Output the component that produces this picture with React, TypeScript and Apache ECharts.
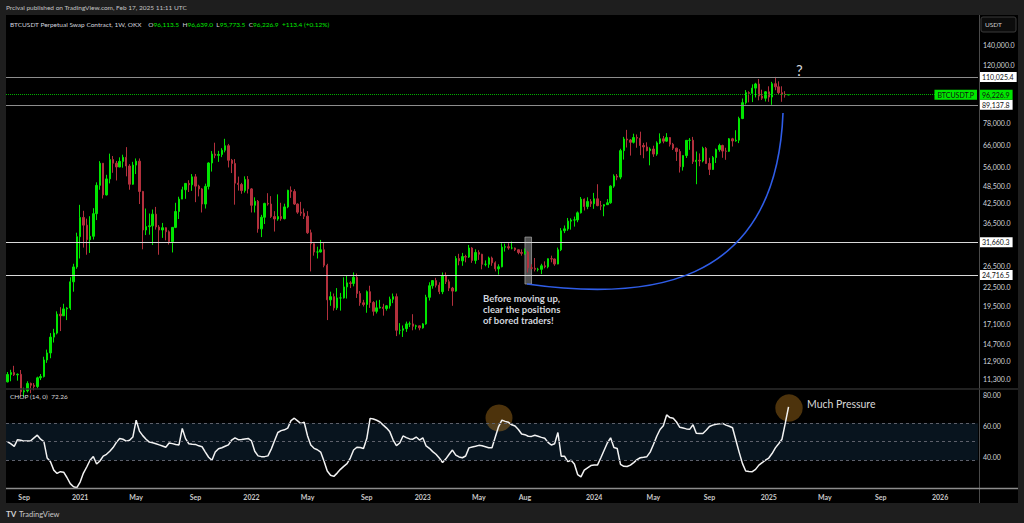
import React, { useEffect, useRef } from "react";
import * as echarts from "echarts";

const FONT = "Lato, 'Open Sans', 'DejaVu Sans', sans-serif";
const NOTE_FONT = "Lato, 'Open Sans', sans-serif";
const GREEN = "#00e600";
const RED = "#b3303d";

// ---- data (prices in thousands of USDT, weekly candles from 2020-08-03) ----
const firstWeekUTC = Date.UTC(2020, 7, 3);
const totalWeeks = 295;
const firstOpen = 11.05;

const closes = [
  11.68, 11.85, 11.65, 11.7, 10.25, 10.33, 10.92, 10.77, 10.67, 11.39,
  11.5, 13.03, 13.74, 15.48, 15.96, 18.4, 18.18, 19.15, 19.27, 23.48,
  26.27, 33.0, 38.15, 36.0, 32.26, 33.1, 39.25, 48.58, 57.4, 45.2,
  51.0, 59.0, 57.4, 55.8, 58.2, 60.0, 56.2, 49.0, 56.6, 58.3,
  46.4, 34.7, 35.6, 35.8, 39.1, 35.5, 34.7, 35.3, 34.25, 31.8,
  35.4, 39.9, 43.8, 47.0, 49.3, 48.8, 51.8, 48.3, 47.3, 42.2,
  48.2, 57.5, 61.5, 60.9, 61.3, 63.3, 65.5, 58.7, 57.3, 49.4,
  48.9, 46.7, 50.8, 47.3, 41.8, 43.1, 35.0, 38.2, 42.4, 42.2,
  38.4, 37.7, 38.4, 37.8, 41.3, 46.8, 46.4, 42.2, 39.7, 39.4,
  38.5, 34.0, 31.3, 29.4, 29.4, 29.9, 26.6, 20.5, 21.0, 19.3,
  20.8, 20.8, 22.6, 23.3, 23.2, 24.3, 21.5, 20.05, 19.8, 21.8,
  20.1, 18.8, 19.3, 19.4, 19.2, 19.6, 20.6, 21.0, 16.3, 16.3,
  16.5, 17.1, 17.1, 16.8, 16.85, 16.6, 17.1, 20.9, 22.8, 23.7,
  22.9, 21.8, 24.6, 23.5, 22.4, 21.9, 28.0, 27.5, 28.4, 28.3,
  30.3, 27.6, 29.3, 28.9, 26.8, 26.8, 28.1, 27.1, 25.9, 26.3,
  30.5, 30.6, 30.3, 30.3, 29.9, 29.3, 29.1, 29.4, 26.1, 26.0,
  25.8, 25.8, 26.5, 26.3, 27.95, 27.9, 26.85, 29.9, 34.5, 35.0,
  37.1, 37.4, 37.45, 39.5, 43.8, 41.4, 43.0, 42.3, 43.9, 41.7,
  41.55, 42.0, 42.6, 48.3, 52.1, 51.7, 63.1, 68.9, 68.4, 67.2,
  69.65, 69.35, 65.6, 64.9, 63.1, 63.9, 61.5, 66.9, 69.0, 67.8,
  69.65, 66.2, 64.3, 62.7, 55.9, 60.8, 68.2, 68.25, 58.1, 58.7,
  58.4, 64.2, 57.3, 54.8, 59.9, 63.6, 65.6, 62.9, 62.8, 69.0,
  67.9, 68.3, 80.4, 90.6, 97.7, 97.2, 101.1, 104.3, 95.2, 93.7,
  98.3, 94.5, 104.5, 102.1, 97.7, 96.5, 96.1135, 96.2269,
];

const highs = [
  11.9, 12.1, 12.47, 11.78, 12.08, 10.58, 11.1, 10.99, 10.95, 11.49,
  11.72, 13.35, 14.09, 15.96, 16.48, 18.8, 19.4, 19.9, 19.4, 24.3,
  26.9, 34.0, 41.95, 40.1, 37.8, 38.5, 40.9, 49.7, 58.3, 57.5,
  52.6, 61.7, 60.6, 58.4, 60.0, 61.2, 64.8, 57.0, 58.0, 59.5,
  59.5, 46.6, 40.8, 39.3, 40.5, 41.3, 36.0, 36.6, 35.4, 34.6,
  35.5, 42.6, 44.6, 48.1, 49.4, 50.5, 52.9, 52.9, 48.8, 47.6,
  49.2, 57.8, 62.9, 67.0, 63.0, 64.3, 69.0, 66.4, 59.3, 59.2,
  51.9, 49.5, 52.0, 52.1, 47.6, 44.4, 43.5, 38.9, 42.6, 45.8,
  44.8, 40.0, 45.4, 42.6, 42.3, 47.0, 48.2, 47.2, 42.4, 42.9,
  40.8, 40.0, 34.8, 31.4, 30.6, 32.2, 31.6, 26.9, 21.8, 21.5,
  22.4, 21.6, 24.3, 24.7, 23.6, 25.2, 25.0, 21.9, 20.5, 22.0,
  22.8, 20.3, 20.4, 20.5, 19.9, 19.7, 21.0, 21.5, 21.5, 17.2,
  16.9, 17.4, 17.4, 18.4, 17.0, 16.9, 17.2, 21.3, 23.4, 23.8,
  24.2, 23.4, 25.2, 25.2, 23.9, 22.6, 28.5, 29.0, 29.2, 28.8,
  31.0, 30.5, 30.0, 29.8, 29.0, 27.6, 28.4, 28.4, 27.4, 26.8,
  31.4, 31.3, 31.4, 31.8, 30.4, 30.0, 30.0, 30.2, 29.7, 26.8,
  28.1, 26.1, 26.9, 27.4, 28.0, 28.6, 28.0, 30.4, 35.2, 35.9,
  38.0, 37.9, 38.4, 39.9, 44.5, 44.0, 44.4, 43.8, 45.9, 49.0,
  43.2, 42.2, 43.8, 48.6, 52.8, 52.9, 64.0, 70.0, 73.8, 68.9,
  71.7, 71.3, 72.8, 66.9, 67.2, 64.7, 65.5, 67.7, 71.9, 70.5,
  72.0, 69.9, 66.9, 64.5, 63.8, 60.9, 68.4, 69.4, 70.0, 62.7,
  61.8, 65.0, 64.9, 59.8, 60.6, 64.1, 66.5, 66.0, 64.5, 69.4,
  69.5, 73.6, 81.5, 93.5, 99.6, 98.7, 104.0, 105.2, 108.3, 99.9,
  98.9, 102.5, 106.0, 110.03, 106.4, 102.5, 98.8, 96.639,
];

const lows = [
  11.0, 11.1, 11.55, 11.15, 9.87, 9.85, 10.2, 10.14, 10.37, 10.53,
  11.2, 11.42, 12.75, 13.2, 14.86, 15.8, 16.2, 18.2, 17.6, 19.0,
  21.8, 25.9, 28.0, 30.4, 28.8, 29.2, 32.3, 37.4, 47.0, 44.0,
  45.0, 49.3, 53.4, 50.4, 55.7, 55.5, 52.0, 47.0, 48.8, 52.9,
  42.2, 30.0, 33.4, 33.5, 31.0, 34.8, 28.8, 32.7, 32.1, 31.1,
  29.3, 35.2, 37.7, 43.8, 43.9, 46.2, 46.6, 42.8, 44.7, 39.6,
  40.8, 47.1, 53.9, 59.6, 58.0, 60.1, 62.3, 55.6, 53.3, 42.0,
  46.7, 45.6, 46.0, 45.7, 39.6, 39.6, 34.0, 32.9, 36.3, 41.7,
  38.0, 34.3, 37.2, 37.2, 37.6, 40.9, 44.2, 41.9, 39.2, 38.6,
  37.7, 33.7, 25.4, 28.6, 28.0, 29.3, 26.2, 17.6, 19.6, 18.9,
  19.0, 18.9, 20.7, 20.7, 22.4, 22.7, 20.8, 19.6, 19.5, 18.6,
  19.3, 18.2, 18.5, 19.2, 18.2, 18.9, 19.2, 20.0, 15.6, 15.8,
  15.5, 16.1, 16.7, 16.3, 16.4, 16.3, 16.5, 17.0, 20.4, 22.3,
  22.5, 21.4, 21.4, 23.1, 21.9, 19.6, 21.8, 26.6, 26.5, 27.2,
  28.1, 27.1, 26.9, 27.7, 25.8, 26.4, 26.1, 26.5, 25.4, 24.8,
  26.2, 29.5, 29.9, 30.0, 29.6, 28.9, 28.6, 28.8, 25.2, 25.8,
  25.4, 25.4, 24.9, 26.0, 26.0, 27.2, 26.5, 26.8, 29.6, 33.9,
  34.5, 34.8, 35.6, 36.8, 39.3, 40.2, 40.6, 41.3, 40.7, 41.5,
  40.3, 38.5, 41.9, 42.3, 47.7, 50.5, 50.9, 59.0, 64.6, 60.8,
  66.6, 64.5, 61.0, 59.6, 62.8, 56.5, 60.2, 60.7, 66.3, 66.7,
  67.5, 65.1, 63.4, 58.4, 53.5, 54.3, 59.7, 63.5, 57.1, 49.0,
  56.1, 57.8, 57.2, 52.5, 54.6, 57.5, 62.6, 59.8, 58.9, 62.5,
  65.1, 67.5, 66.8, 80.0, 89.4, 90.8, 91.0, 94.2, 92.2, 92.5,
  91.4, 91.2, 89.14, 99.5, 96.2, 91.2, 94.1, 95.7735,
];

const chop = [
  50.0, 48.7, 47.1, 51.3, 50.9, 50.4, 50.5, 50.6, 52.5, 54.2,
  51.6, 50.1, 39.6, 37.2, 31.9, 29.8, 30.9, 30.6, 27.2, 23.3,
  21.3, 20.7, 24.3, 30.0, 33.9, 38.2, 40.6, 35.8, 37.7, 40.8,
  42.0, 43.9, 46.3, 49.6, 52.0, 51.6, 50.4, 50.9, 53.0, 63.8,
  56.8, 53.9, 51.6, 49.8, 49.4, 48.7, 48.0, 47.3, 46.5, 49.2,
  48.8, 48.2, 48.0, 58.5, 52.0, 48.7, 48.4, 48.3, 47.4, 46.8,
  43.4, 40.1, 38.2, 43.4, 45.5, 46.2, 47.1, 48.0, 51.1, 52.5,
  51.3, 51.4, 51.8, 52.1, 50.6, 43.9, 41.0, 40.5, 40.5, 41.0,
  45.3, 50.6, 55.9, 57.1, 57.6, 58.7, 63.5, 65.0, 63.3, 61.6,
  62.4, 53.9, 47.9, 45.8, 44.9, 43.4, 37.7, 31.3, 28.6, 27.9,
  30.0, 32.4, 34.3, 36.0, 39.6, 44.7, 46.5, 46.3, 45.7, 52.0,
  64.9, 64.5, 63.7, 62.6, 60.6, 58.7, 56.3, 51.1, 47.5, 49.2,
  53.7, 52.6, 51.8, 51.6, 53.0, 51.1, 52.5, 47.3, 45.8, 43.7,
  42.0, 39.6, 36.8, 39.1, 42.0, 44.7, 41.5, 40.3, 39.8, 40.9,
  46.1, 46.6, 47.1, 47.7, 47.4, 46.8, 46.2, 46.2, 53.0, 59.7,
  63.8, 63.0, 62.4, 60.8, 60.0, 57.8, 54.9, 54.5, 53.5, 53.4,
  54.1, 53.5, 52.8, 52.2, 49.6, 47.9, 48.7, 55.9, 40.8, 40.8,
  37.3, 38.2, 35.8, 29.1, 27.6, 31.9, 33.4, 34.8, 35.1, 35.1,
  39.6, 44.4, 49.2, 52.5, 46.3, 45.7, 35.6, 34.3, 34.2, 35.1,
  36.7, 38.6, 39.8, 40.1, 40.5, 43.4, 48.2, 53.5, 57.8, 60.2,
  67.1, 65.4, 65.0, 62.6, 59.2, 58.7, 58.2, 57.9, 60.8, 55.4,
  55.3, 55.3, 57.3, 59.7, 60.6, 61.1, 61.4, 61.7, 60.6, 59.9,
  58.9, 51.1, 43.4, 36.2, 31.3, 31.0, 30.9, 32.4, 35.1, 36.7,
  38.2, 39.6, 42.5, 46.1, 48.7, 51.6, 61.7, 72.26,
];

const priceTicks = [
  140000, 120000, 78000, 66000, 56000, 48500, 42500, 36500,
  26500, 22500, 19500, 17100, 14700, 12900, 11300,
];
const chopTicks = [80, 60, 40];
const chopLevels = [61.8, 50, 38.2];
const resistanceLevels = [110025.4, 89137.8];
const supportLevels = [31660.3, 24716.5];

const timeLabels: [string, string][] = [
  ["2020-09-07", "Sep"], ["2021-01-04", "2021"], ["2021-05-03", "May"],
  ["2021-09-06", "Sep"], ["2022-01-03", "2022"], ["2022-05-02", "May"],
  ["2022-09-05", "Sep"], ["2023-01-02", "2023"], ["2023-05-01", "May"],
  ["2023-08-07", "Aug"], ["2024-01-01", "2024"], ["2024-05-06", "May"],
  ["2024-09-02", "Sep"], ["2025-01-06", "2025"], ["2025-05-05", "May"],
  ["2025-09-01", "Sep"], ["2026-01-05", "2026"],
];

const noteLines = ["Before moving up,", "clear the positions", "of bored traders!"];

const highlightBox = { from: "2023-08-07", to: "2023-08-21", low: 23100, high: 32900 };

// ---- derived structures ----
const weekDates: string[] = [];
for (let i = 0; i < totalWeeks; i++) {
  weekDates.push(new Date(firstWeekUTC + i * 7 * 86400000).toISOString().slice(0, 10));
}
const labelMap = new Map(timeLabels);

const candles = closes.map((c, i) => {
  const o = i === 0 ? firstOpen : closes[i - 1];
  return [o * 1000, c * 1000, lows[i] * 1000, highs[i] * 1000];
});
const last = candles[candles.length - 1];
const lastPrice = last[1];

const fmt1 = (v: number) =>
  v.toLocaleString("en-US", { minimumFractionDigits: 1, maximumFractionDigits: 1 });

const change = last[1] - last[0];
const changePct = (change / last[0]) * 100;

const HIDDEN_LINE = { color: "rgba(0,0,0,0)", width: 0, type: "solid" };

const tickLabel = (v: number, text: string) => ({
  yAxis: v,
  lineStyle: HIDDEN_LINE,
  label: {
    show: true, position: "end", distance: 5, formatter: text,
    color: "#d1d4dc", fontSize: 7, fontFamily: FONT,
  },
});

const boxLabel = (v: number, lineColor: string) => ({
  yAxis: v,
  lineStyle: { color: lineColor, width: 1, type: "solid" },
  label: {
    show: true, position: "end", distance: 1, formatter: fmt1(v),
    color: "#111", backgroundColor: "#ffffff", padding: [2, 3, 1, 3],
    fontSize: 7, fontFamily: FONT,
  },
});

function buildOption() {
  return {
    animation: false,
    backgroundColor: "#000000",
    grid: [
      { left: 6, right: 46, top: 15, height: 373, outerBoundsMode: "none" },
      { left: 6, right: 46, top: 390, height: 98, outerBoundsMode: "none" },
    ],
    xAxis: [
      {
        type: "category", gridIndex: 0, data: weekDates,
        axisLine: { show: false }, axisTick: { show: false },
        axisLabel: { show: false }, splitLine: { show: false },
      },
      {
        type: "category", gridIndex: 1, data: weekDates,
        axisLine: { show: false }, axisTick: { show: false }, splitLine: { show: false },
        axisLabel: {
          interval: (_i: number, v: string) => labelMap.has(v),
          formatter: (v: string) => labelMap.get(v) ?? "",
          color: "#c8c8c8", fontSize: 7, fontWeight: "bold", fontFamily: FONT, margin: 5,
        },
      },
    ],
    yAxis: [
      {
        type: "log", gridIndex: 0, min: 10550, max: 175400, position: "right",
        axisLine: { show: false }, axisTick: { show: false },
        axisLabel: { show: false }, splitLine: { show: false },
      },
      {
        type: "value", gridIndex: 1, min: 20.5, max: 83, position: "right",
        axisLine: { show: false }, axisTick: { show: false },
        axisLabel: { show: false }, splitLine: { show: false },
      },
    ],
    series: [
      {
        type: "candlestick", xAxisIndex: 0, yAxisIndex: 0, data: candles,
        barWidth: 1.9,
        itemStyle: { color: GREEN, color0: RED, borderColor: GREEN, borderColor0: RED, borderWidth: 1 },
        markArea: {
          silent: true,
          itemStyle: { color: "rgba(135,135,135,0.6)", borderColor: "rgba(170,170,170,0.7)", borderWidth: 1 },
          data: [[
            { xAxis: highlightBox.from, yAxis: highlightBox.low },
            { xAxis: highlightBox.to, yAxis: highlightBox.high },
          ]],
        },
        markLine: {
          silent: true, symbol: ["none", "none"],
          data: [
            ...priceTicks.map((v) => tickLabel(v, fmt1(v))),
            ...resistanceLevels.map((v) => boxLabel(v, "#8d8d8d")),
            ...supportLevels.map((v) => boxLabel(v, "#d9d9d9")),
            {
              yAxis: lastPrice,
              lineStyle: { color: "#00b000", width: 1, type: "dotted" },
              label: {
                show: true, position: "end", distance: 1, formatter: fmt1(lastPrice),
                color: "#111", backgroundColor: GREEN, padding: [2, 3, 1, 3],
                fontSize: 7, fontFamily: FONT,
              },
            },
            {
              yAxis: lastPrice,
              lineStyle: HIDDEN_LINE,
              label: {
                show: true, position: "insideEnd", distance: [1, 0], formatter: "BTCUSDT.P",
                color: "#111", backgroundColor: GREEN, padding: [2, 3, 1, 3],
                fontSize: 7, fontFamily: FONT,
              },
            },
          ],
        },
      },
      {
        type: "line", xAxisIndex: 1, yAxisIndex: 1, data: chop,
        symbol: "none", showSymbol: false, z: 3,
        lineStyle: { color: "#f2f2f2", width: 1.5 },
        markArea: {
          silent: true,
          itemStyle: { color: "#08141e" },
          data: [[{ yAxis: chopLevels[2] }, { yAxis: chopLevels[0] }]],
        },
        markLine: {
          silent: true, symbol: ["none", "none"],
          data: [
            ...chopLevels.map((v) => ({
              yAxis: v,
              lineStyle: { color: "#5d606b", width: 1, type: [3, 3] },
              label: { show: false },
            })),
            ...chopTicks.map((v) => tickLabel(v, v.toFixed(2))),
          ],
        },
      },
    ],
    graphic: {
      elements: [
        { type: "rect", silent: true, z: 50, shape: { x: 0, y: 0, width: 1024, height: 15 }, style: { fill: "#1e1e1e" } },
        { type: "rect", silent: true, z: 50, shape: { x: 0, y: 503, width: 1024, height: 20 }, style: { fill: "#1e1e1e" } },
        { type: "rect", silent: true, z: 50, shape: { x: 0, y: 0, width: 6, height: 523 }, style: { fill: "#1e1e1e" } },
        { type: "rect", silent: true, z: 50, shape: { x: 1018, y: 0, width: 6, height: 523 }, style: { fill: "#1e1e1e" } },
        { type: "line", silent: true, z: 40, shape: { x1: 979.5, y1: 15, x2: 979.5, y2: 503 }, style: { stroke: "#4a4a4a", lineWidth: 1 } },
        { type: "line", silent: true, z: 40, shape: { x1: 6, y1: 389, x2: 1018, y2: 389 }, style: { stroke: "#2c2c2c", lineWidth: 1.5 } },
        { type: "line", silent: true, z: 40, shape: { x1: 6, y1: 488.5, x2: 1018, y2: 488.5 }, style: { stroke: "#8c8c8c", lineWidth: 1.5 } },
        {
          type: "text", z: 60, x: 6, y: 7.5,
          style: {
            text: "Prcival published on TradingView.com, Feb 17, 2025 11:11 UTC",
            fill: "#c4c4c4", fontSize: 6.5, fontFamily: FONT, verticalAlign: "middle",
          },
        },
        {
          type: "text", z: 60, x: 10, y: 24.5,
          style: {
            text:
              "{w|BTCUSDT Perpetual Swap Contract, 1W, OKX}  {w|O}{g|" + fmt1(last[0]) +
              "} {w|H}{g|" + fmt1(last[3]) + "} {w|L}{g|" + fmt1(last[2]) +
              "} {w|C}{g|" + fmt1(last[1]) + "} {g|" + (change >= 0 ? "+" : "") + fmt1(change) +
              " (" + (changePct >= 0 ? "+" : "") + changePct.toFixed(2) + "%)}",
            rich: {
              w: { fill: "#d1d4dc", fontSize: 6.5, fontFamily: FONT },
              g: { fill: GREEN, fontSize: 6.5, fontFamily: FONT },
            },
            verticalAlign: "middle",
          },
        },
        { type: "rect", z: 60, shape: { x: 981, y: 17, width: 35, height: 15, r: 2 }, style: { fill: "#0c0c0c", stroke: "#3a3a3a", lineWidth: 1 } },
        { type: "text", z: 61, x: 985, y: 24.5, style: { text: "USDT", fill: "#cfcfcf", fontSize: 6.5, fontFamily: FONT, verticalAlign: "middle" } },
        {
          type: "text", z: 60, x: 10, y: 396,
          style: { text: "CHOP (14, 0)  " + chop[chop.length - 1].toFixed(2), fill: "#d8d8d8", fontSize: 6.5, fontFamily: FONT, verticalAlign: "middle" },
        },
        { type: "text", z: 60, x: 6, y: 514, style: { text: "TV", fill: "#d0d0d0", fontSize: 8, fontWeight: "bold", fontFamily: FONT, verticalAlign: "middle" } },
        { type: "text", z: 60, x: 19, y: 514, style: { text: "TradingView", fill: "#c8c8c8", fontSize: 7.5, fontFamily: FONT, verticalAlign: "middle" } },
        // annotations
        {
          type: "bezierCurve", z: 20, silent: true,
          shape: { x1: 527, y1: 284, cpx1: 640, cpy1: 300, cpx2: 776, cpy2: 292, x2: 783, y2: 113 },
          style: { stroke: "#2f5de8", lineWidth: 1.6, fill: "none" },
        },
        { type: "text", z: 20, x: 796, y: 70, style: { text: "?", fill: "#d1d4dc", fontSize: 15, fontFamily: FONT, verticalAlign: "middle" } },
        ...noteLines.map((t, i) => ({
          type: "text", z: 20, x: 483, y: 298 + i * 11,
          style: {
            text: t, fill: "#d1d4dc", fontSize: 9.5, fontWeight: "bold",
            fontFamily: NOTE_FONT, verticalAlign: "middle",
          },
        })),
        { type: "circle", z: 1.5, silent: true, shape: { cx: 499, cy: 418, r: 13.5 }, style: { fill: "rgba(255,170,40,0.3)" } },
        { type: "circle", z: 1.5, silent: true, shape: { cx: 789, cy: 408, r: 13.7 }, style: { fill: "rgba(255,170,40,0.3)" } },
        { type: "text", z: 20, x: 807, y: 404, style: { text: "Much Pressure", fill: "#d8d8d8", fontSize: 10.5, fontFamily: NOTE_FONT, verticalAlign: "middle" } },
      ],
    },
  };
}

export default function App() {
  const ref = useRef<HTMLDivElement>(null);
  useEffect(() => {
    if (!ref.current) return;
    const chart = echarts.init(ref.current, null, { renderer: "svg" });
    chart.setOption(buildOption() as any);
    return () => chart.dispose();
  }, []);
  return (
    <div
      ref={ref}
      style={{ position: "fixed", left: 0, top: 0, width: 1024, height: 523 }}
    />
  );
}
